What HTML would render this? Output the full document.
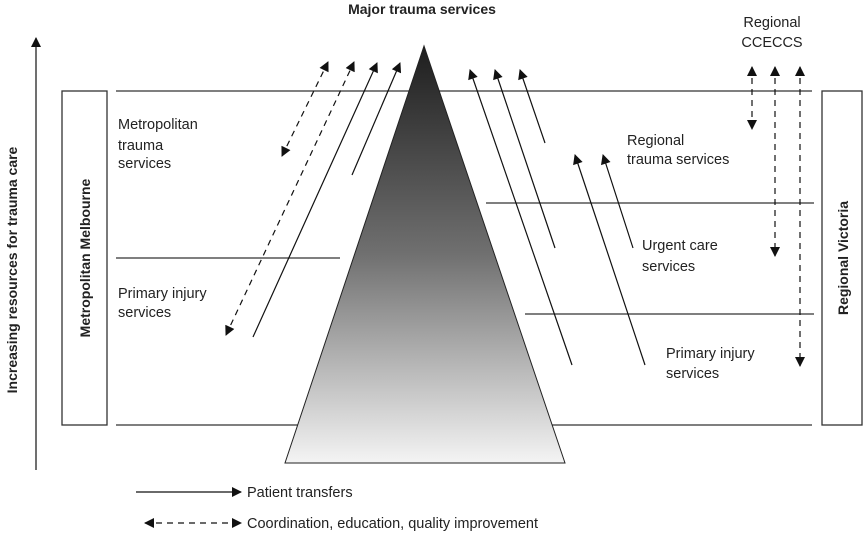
<!DOCTYPE html>
<html><head><meta charset="utf-8"><style>
html,body{margin:0;padding:0;background:#fff;}
svg{display:block;}
text{font-family:"Liberation Sans",Arial,sans-serif;font-size:14.5px;fill:#222;}
.b{font-weight:bold;font-size:14px;}
</style></head><body>
<svg width="868" height="533" viewBox="0 0 868 533" xmlns="http://www.w3.org/2000/svg">
<defs>
<linearGradient id="g" x1="0" y1="0" x2="0" y2="1">
<stop offset="0" stop-color="#1e1e1e"/><stop offset="0.5" stop-color="#707070"/><stop offset="1" stop-color="#f4f4f4"/>
</linearGradient>
<marker id="a" viewBox="0 0 10 10" refX="9" refY="5" markerWidth="11" markerHeight="10" orient="auto-start-reverse" markerUnits="userSpaceOnUse">
<path d="M0,0 L10,5 L0,10 z" fill="#111"/></marker>
</defs>
<g stroke="#333" stroke-width="1.3" fill="none">
<line x1="116" y1="91" x2="812" y2="91"/>
<line x1="116" y1="425" x2="812" y2="425"/>
<line x1="116" y1="258" x2="340" y2="258"/>
<line x1="486" y1="203" x2="814" y2="203"/>
<line x1="525" y1="314" x2="814" y2="314"/>
<rect x="62" y="91" width="45" height="334"/>
<rect x="822" y="91" width="40" height="334"/>
</g>
<polygon points="424,46 285,463 565,463" fill="url(#g)" stroke="#222" stroke-width="1"/>
<g stroke="#111" stroke-width="1.2" fill="none">
<line x1="36" y1="470" x2="36" y2="38" marker-end="url(#a)"/>
<line x1="253" y1="337" x2="377" y2="63" marker-end="url(#a)"/>
<line x1="352" y1="175" x2="400" y2="63" marker-end="url(#a)"/>
<line x1="572" y1="365" x2="470" y2="70" marker-end="url(#a)"/>
<line x1="555" y1="248" x2="495" y2="70" marker-end="url(#a)"/>
<line x1="545" y1="143" x2="520" y2="70" marker-end="url(#a)"/>
<line x1="645" y1="365" x2="575" y2="155" marker-end="url(#a)"/>
<line x1="633" y1="248" x2="603" y2="155" marker-end="url(#a)"/>
<line x1="136" y1="492" x2="241" y2="492" marker-end="url(#a)"/>
</g>
<g stroke="#111" stroke-width="1.2" fill="none" stroke-dasharray="6,5">
<line x1="282" y1="156" x2="328" y2="62" marker-start="url(#a)" marker-end="url(#a)"/>
<line x1="226" y1="335" x2="354" y2="62" marker-start="url(#a)" marker-end="url(#a)"/>
<line x1="752" y1="67" x2="752" y2="129" marker-start="url(#a)" marker-end="url(#a)"/>
<line x1="775" y1="67" x2="775" y2="256" marker-start="url(#a)" marker-end="url(#a)"/>
<line x1="800" y1="67" x2="800" y2="366" marker-start="url(#a)" marker-end="url(#a)"/>
<line x1="145" y1="523" x2="241" y2="523" marker-start="url(#a)" marker-end="url(#a)"/>
</g>
<text x="422" y="14" text-anchor="middle" class="b">Major trauma services</text>
<text x="772" y="27" text-anchor="middle">Regional</text>
<text x="772" y="47" text-anchor="middle">CCECCS</text>
<text x="118" y="129">Metropolitan</text>
<text x="118" y="150">trauma</text>
<text x="118" y="168">services</text>
<text x="118" y="298">Primary injury</text>
<text x="118" y="317">services</text>
<text x="627" y="145">Regional</text>
<text x="627" y="164">trauma services</text>
<text x="642" y="250">Urgent care</text>
<text x="642" y="271">services</text>
<text x="666" y="358">Primary injury</text>
<text x="666" y="378">services</text>
<text x="247" y="497">Patient transfers</text>
<text x="247" y="528">Coordination, education, quality improvement</text>
<text transform="translate(90,258) rotate(-90)" text-anchor="middle" class="b">Metropolitan Melbourne</text>
<text transform="translate(848,258) rotate(-90)" text-anchor="middle" class="b">Regional Victoria</text>
<text transform="translate(17,270) rotate(-90)" text-anchor="middle" class="b">Increasing resources for trauma care</text>
</svg>
</body></html>
